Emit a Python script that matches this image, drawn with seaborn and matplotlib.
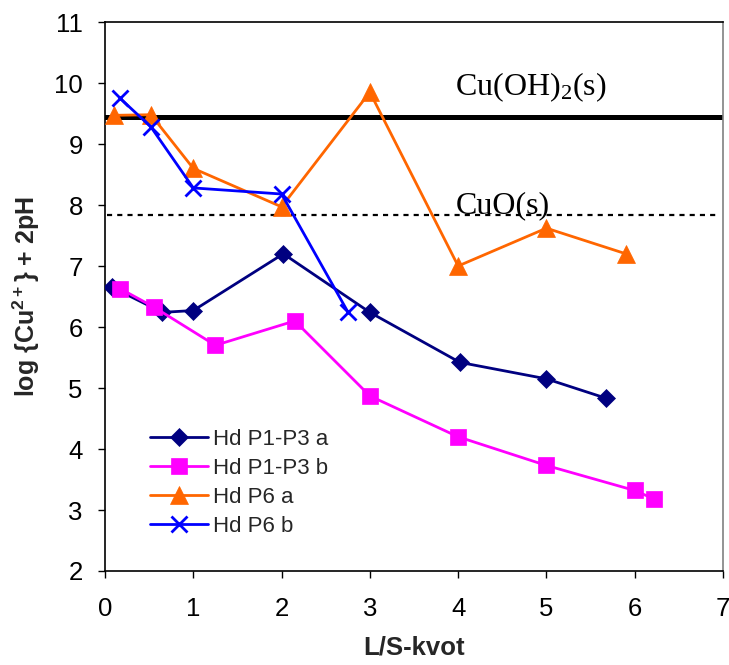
import pandas as pd
import seaborn as sns
import matplotlib
matplotlib.use('Agg')
import matplotlib.pyplot as plt

# data
ls_p13a = [0.08, 0.65, 1.0, 2.02, 3.0, 4.02, 5.0, 5.68]
val_p13a = [6.65, 6.24, 6.27, 7.2, 6.24, 5.42, 5.15, 4.83]

ls_p13b = [0.17, 0.55, 1.25, 2.15, 3.0, 4.0, 5.0, 6.0, 6.22]
val_p13b = [6.63, 6.33, 5.7, 6.1, 4.87, 4.2, 3.73, 3.32, 3.18]

ls_p6a = [0.1, 0.52, 1.0, 2.0, 3.0, 4.0, 5.0, 5.9]
val_p6a = [9.47, 9.48, 8.6, 7.97, 9.85, 7.0, 7.62, 7.2]

ls_p6b = [0.17, 0.52, 1.0, 2.0, 2.75]
val_p6b = [9.75, 9.28, 8.28, 8.18, 6.25]

series_names = ['Hd P1-P3 a', 'Hd P1-P3 b', 'Hd P6 a', 'Hd P6 b']
series_colors = ['#000080', '#FF00FF', '#FF6600', '#0000FF']
series_markers = ['D', 's', '^', 'x']
series_ms = [9, 12, 12.5, 12]

cuoh2_level = 9.44
cuo_level = 7.84


def main():
    sns.set_style('ticks')
    plt.rcParams['font.family'] = ['Liberation Sans', 'DejaVu Sans']
    plt.rcParams['mathtext.fontset'] = 'custom'
    plt.rcParams['mathtext.rm'] = 'Liberation Serif'
    plt.rcParams['mathtext.bf'] = 'Liberation Sans:bold'
    plt.rcParams['mathtext.default'] = 'rm'

    fig = plt.figure(figsize=(7.29, 6.65), dpi=100)
    ax = fig.add_axes([105 / 729, 1 - 571 / 665, 618 / 729, 549 / 665])

    # reference levels
    ax.axhline(cuoh2_level, color='black', lw=3.6, zorder=1)
    ax.axhline(cuo_level, xmin=0.003, xmax=0.988, color='black', lw=1.6,
               dashes=(2.3, 2.3), zorder=1)

    xs = [ls_p13a, ls_p13b, ls_p6a, ls_p6b]
    ys = [val_p13a, val_p13b, val_p6a, val_p6b]
    for x, y, name, c, m, ms in zip(xs, ys, series_names, series_colors,
                                    series_markers, series_ms):
        df = pd.DataFrame({'ls': x, 'val': y})
        sns.lineplot(data=df, x='ls', y='val', ax=ax, sort=False, color=c,
                     lw=2.0, marker=m, markersize=ms, markeredgecolor=c,
                     markeredgewidth=2.0 if m == 'x' else 0.5, label=name,
                     zorder=3)

    ax.text(3.97, 9.8, r'Cu(OH)$_2$(s)', fontsize=23, family='Liberation Serif',
            ha='left', va='baseline', color='black')
    ax.text(3.97, 7.87, 'CuO(s)', fontsize=23, family='Liberation Serif',
            ha='left', va='baseline', color='black')

    ax.set_xlim(0, 7)
    ax.set_ylim(2, 11)
    ax.set_xticks(range(0, 8))
    ax.set_yticks(range(2, 12))
    ax.tick_params(axis='both', direction='out', length=5, width=1,
                   labelsize=18.5, colors='black')
    ax.tick_params(axis='x', pad=14)
    ax.tick_params(axis='y', pad=11)
    ax.set_xlabel('L/S-kvot', fontsize=18.5, fontweight='bold', labelpad=10)
    ax.set_ylabel(r'log {Cu$\mathbf{^{2+}}$} + 2pH', fontsize=18,
                  fontweight='bold', labelpad=9)

    for side in ['left', 'bottom', 'top']:
        ax.spines[side].set_color('black')
        ax.spines[side].set_linewidth(1.2)
    ax.spines['right'].set_color('#808080')
    ax.spines['right'].set_linewidth(1.2)
    ax.spines['top'].set_visible(True)
    ax.spines['right'].set_visible(True)

    leg = ax.legend(loc='upper left', bbox_to_anchor=(0.058, 0.275), frameon=False,
                    fontsize=16, handlelength=2.6, labelspacing=0.36,
                    handletextpad=0.25, borderaxespad=0)
    for line in leg.get_lines():
        line.set_linewidth(2.0)

    fig.savefig('out.png', dpi=100)


if __name__ == '__main__':
    main()
